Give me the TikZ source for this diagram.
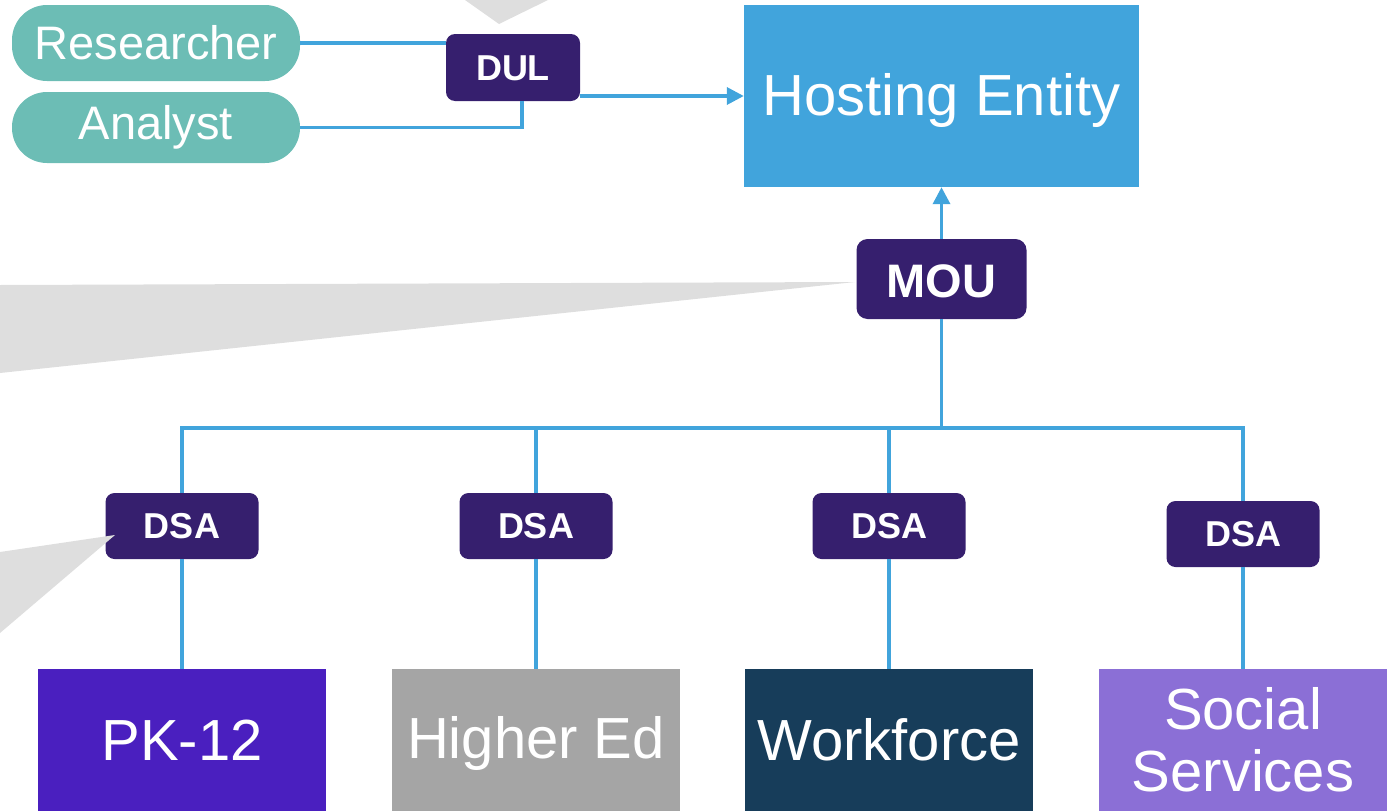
\documentclass[tikz,border=0pt]{standalone}
\usepackage{fontspec}
\setmainfont{Liberation Sans}
\usetikzlibrary{arrows.meta}

\definecolor{teal}{HTML}{6CBDB5}
\definecolor{sky}{HTML}{41A4DC}
\definecolor{agree}{HTML}{361F6E}
\definecolor{pkcol}{HTML}{4A1FBF}
\definecolor{hecol}{HTML}{A5A5A5}
\definecolor{wfcol}{HTML}{173D5A}
\definecolor{sscol}{HTML}{8B6FD6}
\definecolor{wedgegray}{HTML}{DEDEDE}

% lower the ink of a label without changing its box
\newcommand{\dropby}[2]{\raisebox{-#1}[\height][\depth]{#2}}

\tikzset{
  role/.style={fill=teal, text=white, rounded corners=35pt, minimum width=288pt,
    inner sep=0pt, font=\fontsize{47}{50}\selectfont},
  pact/.style={fill=agree, text=white, rounded corners=9pt, inner sep=0pt,
    font=\bfseries\fontsize{36}{40}\selectfont},
  sector/.style={text=white, minimum width=288pt, minimum height=142pt, inner sep=0pt,
    align=center, font=\fontsize{58}{62}\selectfont},
  link/.style={draw=sky, line width=3.5pt},
  tip/.style={-{Triangle[length=17pt,width=17pt]}},
  wedge/.style={fill=wedgegray},
}

\begin{document}
\begin{tikzpicture}[x=1pt,y=-1pt]
\useasboundingbox (0,0) rectangle (1391,811);

% grey pointer shapes in the background
\fill[wedge] (465,0) -- (499,24) -- (548,0) -- cycle;
\fill[wedge] (0,285) -- (855,282) -- (0,373) -- cycle;

% users and use agreement
\node[role, minimum height=76pt] (res) at (156,43) {Researcher};
\node[role, minimum height=71pt] (ana) at (156,127.5) {Analyst};
\node[pact, minimum width=134pt, minimum height=67pt] (dul) at (513,67.5) {\dropby{1pt}{DUL}};

% hosting entity and memorandum
\node[fill=sky, text=white, minimum width=395pt, minimum height=182pt, inner sep=0pt,
  font=\fontsize{58}{62}\selectfont] (host) at (941.5,96) {\dropby{5pt}{Hosting Entity}};
\node[pact, rounded corners=11pt, minimum width=170pt, minimum height=80pt,
  font=\bfseries\fontsize{47}{50}\selectfont] (mou) at (941.5,279) {\dropby{2pt}{MOU}};

% sharing agreements
\node[pact, minimum width=153pt, minimum height=66pt] (dsa1) at (182,526) {DSA};
\node[pact, minimum width=153pt, minimum height=66pt] (dsa2) at (536,526) {DSA};
\node[pact, minimum width=153pt, minimum height=66pt] (dsa3) at (889,526) {DSA};
\node[pact, minimum width=153pt, minimum height=66pt] (dsa4) at (1243,534) {DSA};

% data sectors
\node[sector, fill=pkcol] (pk) at (182,740) {PK-12};
\node[sector, fill=hecol] (he) at (536,740) {\dropby{3pt}{Higher Ed}};
\node[sector, fill=wfcol] (wf) at (889,740) {Workforce};
\node[sector, fill=sscol] (ss) at (1243,740) {Social\\Services};

\fill[wedge] (0,552) -- (115,535) -- (0,633) -- cycle;

% connectors
\coordinate (bus) at (941.5,428);
\draw[link] (res.east) -- (res.east -| dul.west);
\draw[link] (ana.east) -| ([xshift=9pt]dul.south);
\draw[link, tip] (dul.east |- host.west) -- (host.west);
\draw[link, tip] (mou.north) -- (host.south);
\draw[link] (mou.south) -- (bus);
\draw[link] (dsa1.north) |- (bus) -| (dsa4.north);
\draw[link] (dsa2.north) -- (dsa2.north |- bus);
\draw[link] (dsa3.north) -- (dsa3.north |- bus);
\draw[link] (dsa1.south) -- (pk.north);
\draw[link] (dsa2.south) -- (he.north);
\draw[link] (dsa3.south) -- (wf.north);
\draw[link] (dsa4.south) -- (ss.north);
\end{tikzpicture}
\end{document}
